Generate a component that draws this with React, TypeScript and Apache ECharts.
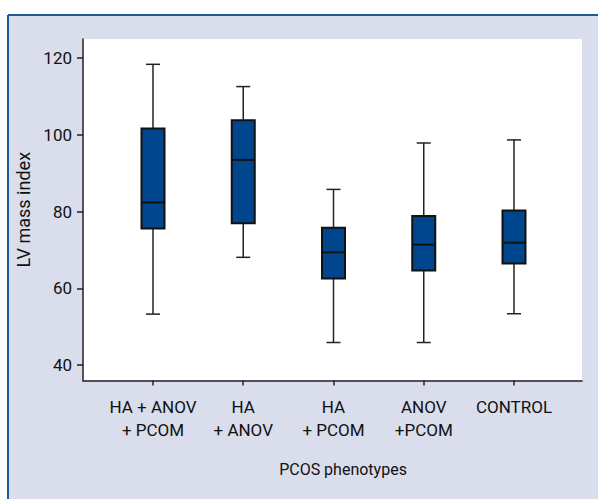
import React, { useEffect, useRef } from "react";
import * as echarts from "echarts";

const categories = ["HA + ANOV\n+ PCOM", "HA\n+ ANOV", "HA\n+ PCOM", "ANOV\n+PCOM", "CONTROL"];
const positions = [1, 2, 3, 4, 5];
const mins = [53.3, 68.1, 45.9, 45.9, 53.4];
const q1s = [75.6, 77.0, 62.6, 64.7, 66.5];
const medians = [82.4, 93.5, 69.4, 71.4, 71.9];
const q3s = [101.7, 103.8, 75.8, 78.9, 80.3];
const maxs = [118.4, 112.6, 85.8, 97.9, 98.7];
const yTicks = [40, 60, 80, 100, 120];
const yName = "LV mass index";
const xName = "PCOS phenotypes";

const FONT = "Roboto, 'Liberation Sans', Arial, sans-serif";

export default function App() {
  const ref = useRef<HTMLDivElement>(null);
  useEffect(() => {
    if (!ref.current) return;
    const chart = echarts.init(ref.current, undefined, { renderer: "svg" });
    const data = positions.map((p, i) => [p, mins[i], q1s[i], medians[i], q3s[i], maxs[i]]);
    const option: any = {
      animation: false,
      backgroundColor: "#ffffff",
      textStyle: { fontFamily: FONT },
      graphic: [
        { type: "rect", z: -10, shape: { x: 8, y: 15, width: 600, height: 500 }, style: { fill: "#d9ddec" }, silent: true },
        { type: "line", z: -9, shape: { x1: 8, y1: 15, x2: 598, y2: 15 }, style: { stroke: "#1d5a98", lineWidth: 2 }, silent: true },
        { type: "line", z: -9, shape: { x1: 8, y1: 15, x2: 8, y2: 499 }, style: { stroke: "#1d5a98", lineWidth: 2 }, silent: true },
        {
          type: "text",
          x: 343,
          y: 469,
          style: { text: xName, fontFamily: FONT, fontSize: 16, fill: "#111", align: "center", verticalAlign: "middle" },
        },
      ],
      grid: {
        left: 83,
        top: 39,
        width: 499,
        height: 341.5,
        show: true,
        backgroundColor: "#ffffff",
        borderWidth: 0,
      },
      xAxis: {
        type: "value",
        min: 0.2244,
        max: 5.7535,
        splitLine: { show: false },
        axisLine: { show: true, lineStyle: { color: "#222", width: 1.5 } },
        axisTick: { show: true, customValues: positions, length: 5, lineStyle: { color: "#222", width: 1.5 } },
        axisLabel: {
          customValues: positions,
          formatter: (v: number) => categories[positions.indexOf(Math.round(v))] ?? "",
          fontFamily: FONT,
          fontSize: 17,
          lineHeight: 23,
          margin: 15,
          color: "#111",
          align: "center",
        },
      },
      yAxis: {
        type: "value",
        min: 36,
        max: 125,
        name: yName,
        nameLocation: "middle",
        nameGap: 36,
        nameRotate: 90,
        nameTextStyle: { fontFamily: FONT, fontSize: 18, color: "#111" },
        splitLine: { show: false },
        axisLine: { show: true, lineStyle: { color: "#222", width: 1.5 } },
        axisTick: { show: true, customValues: yTicks, length: 6, lineStyle: { color: "#222", width: 1.5 } },
        axisLabel: { customValues: yTicks, fontFamily: FONT, fontSize: 17, margin: 11, color: "#111" },
      },
      series: [
        {
          type: "custom",
          data,
          encode: { x: 0, y: [1, 2, 3, 4, 5] },
          clip: false,
          renderItem: (params: any, api: any) => {
            const x = api.value(0);
            const pMin = api.coord([x, api.value(1)]);
            const pQ1 = api.coord([x, api.value(2)]);
            const pMed = api.coord([x, api.value(3)]);
            const pQ3 = api.coord([x, api.value(4)]);
            const pMax = api.coord([x, api.value(5)]);
            const cx = pMin[0];
            const boxW = 23;
            const capW = 14;
            const lineStyle = { stroke: "#222", lineWidth: 1.5 };
            return {
              type: "group",
              children: [
                { type: "line", shape: { x1: cx, y1: pQ3[1], x2: cx, y2: pMax[1] }, style: lineStyle },
                { type: "line", shape: { x1: cx, y1: pQ1[1], x2: cx, y2: pMin[1] }, style: lineStyle },
                { type: "line", shape: { x1: cx - capW / 2, y1: pMax[1], x2: cx + capW / 2, y2: pMax[1] }, style: lineStyle },
                { type: "line", shape: { x1: cx - capW / 2, y1: pMin[1], x2: cx + capW / 2, y2: pMin[1] }, style: lineStyle },
                {
                  type: "rect",
                  shape: { x: cx - boxW / 2, y: pQ3[1], width: boxW, height: pQ1[1] - pQ3[1] },
                  style: { fill: "#00468c", stroke: "#111", lineWidth: 2 },
                },
                {
                  type: "line",
                  shape: { x1: cx - boxW / 2, y1: pMed[1], x2: cx + boxW / 2, y2: pMed[1] },
                  style: { stroke: "#111", lineWidth: 2 },
                },
              ],
            };
          },
        },
      ],
    };
    chart.setOption(option);
    return () => chart.dispose();
  }, []);
  return <div ref={ref} style={{ position: "absolute", left: 0, top: 0, width: 598, height: 499 }} />;
}
